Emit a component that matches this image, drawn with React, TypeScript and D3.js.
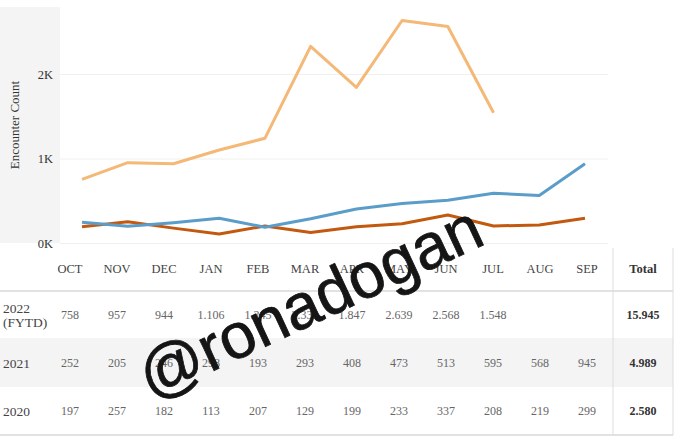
import React from 'react';
import * as d3 from 'd3';

const months = ['OCT', 'NOV', 'DEC', 'JAN', 'FEB', 'MAR', 'APR', 'MAY', 'JUN', 'JUL', 'AUG', 'SEP'];
const fy2022 = [758, 957, 944, 1106, 1245, 2333, 1847, 2639, 2568, 1548, null, null];
const fy2021 = [252, 205, 246, 298, 193, 293, 408, 473, 513, 595, 568, 945];
const fy2020 = [197, 257, 182, 113, 207, 129, 199, 233, 337, 208, 219, 299];
const yTicks = [0, 1000, 2000];

const series = [
  { name: '2022', label: ['2022', '(FYTD)'], values: fy2022, color: '#f4b877' },
  { name: '2021', label: ['2021'], values: fy2021, color: '#5b9dc9' },
  { name: '2020', label: ['2020'], values: fy2020, color: '#c2590f' },
];

const W = 680;
const H = 440;
const serif = "'Liberation Serif', 'DejaVu Serif', Tinos, 'Noto Serif', 'Times New Roman', Times, serif";

const fmt = (v: number) => d3.format(',')(v).replace(/,/g, '.');

export default function App() {
  const x = d3.scalePoint<string>().domain(months).range([82, 585]);
  const y = d3.scaleLinear().domain([0, 2800]).range([243.5, 6.9]);
  const col = d3.scalePoint<string>().domain(months).range([70, 587]);

  const line = d3
    .line<number | null>()
    .defined((d) => d != null)
    .x((_, i) => x(months[i])!)
    .y((d) => y(d as number));

  const rowTop = [291, 338, 387];
  const rowH = [47, 49, 48];

  return (
    <svg width={W} height={H} style={{ position: 'absolute', left: 0, top: 0, background: '#fff' }}>
      <g style={{ fontFamily: serif }}>
        {/* axis panel */}
        <rect x={0} y={7} width={60} height={236} fill="#f4f4f4" />
        <text transform="translate(19,125) rotate(-90)" textAnchor="middle" fontSize={13} fill="#333">
          Encounter Count
        </text>
        {yTicks.map((t) => (
          <g key={t}>
            <line x1={60} x2={608} y1={y(t)} y2={y(t)} stroke={t === 0 ? '#eeeeee' : '#f0f0f0'} strokeWidth={1} />
            <text x={53} y={y(t) + 4} textAnchor="end" fontSize={12.5} fill="#333">
              {t / 1000}K
            </text>
          </g>
        ))}

        {/* lines */}
        {[...series].reverse().map((s) => (
          <path
            key={s.name}
            d={line(s.values) || ''}
            fill="none"
            stroke={s.color}
            strokeWidth={3}
            strokeLinejoin="round"
          />
        ))}

        {/* table */}
        <rect x={0} y={rowTop[1]} width={673} height={rowH[1]} fill="#f4f4f4" />
        <line x1={0} x2={673} y1={291} y2={291} stroke="#d9d9d9" strokeWidth={1.5} />
        <line x1={0} x2={673} y1={435} y2={435} stroke="#d9d9d9" strokeWidth={1.5} />
        <line x1={613} x2={613} y1={248} y2={435} stroke="#dddddd" strokeWidth={1} />
        <line x1={673} x2={673} y1={248} y2={435} stroke="#dddddd" strokeWidth={1} />

        {months.map((m) => (
          <text key={m} x={col(m)} y={273} textAnchor="middle" fontSize={12.5} fill="#444">
            {m}
          </text>
        ))}
        <text x={643} y={273} textAnchor="middle" fontSize={12.5} fontWeight="bold" fill="#333">
          Total
        </text>

        {series.map((s, r) => {
          const cy = rowTop[r] + rowH[r] / 2;
          const total = d3.sum(s.values as number[]);
          return (
            <g key={s.name}>
              {s.label.map((l, i) => (
                <text
                  key={l}
                  x={3}
                  y={cy + 5 + (i - (s.label.length - 1) / 2) * 14}
                  fontSize={13.5}
                  fill="#444"
                >
                  {l}
                </text>
              ))}
              {s.values.map((v, i) =>
                v == null ? null : (
                  <text key={i} x={col(months[i])} y={cy + 4} textAnchor="middle" fontSize={12} fill="#666">
                    {fmt(v)}
                  </text>
                )
              )}
              <text x={643} y={cy + 4} textAnchor="middle" fontSize={12} fontWeight="bold" fill="#333">
                {fmt(total)}
              </text>
            </g>
          );
        })}
      </g>

      {/* watermark */}
      <text
        transform="translate(151,400) rotate(-25)"
        style={{ fontFamily: "'Liberation Sans', Arial, sans-serif" }}
        fontSize={64}
        fill="#151515"
        stroke="#151515"
        strokeWidth={0.8}
      >
        @ronadogan
      </text>
    </svg>
  );
}
